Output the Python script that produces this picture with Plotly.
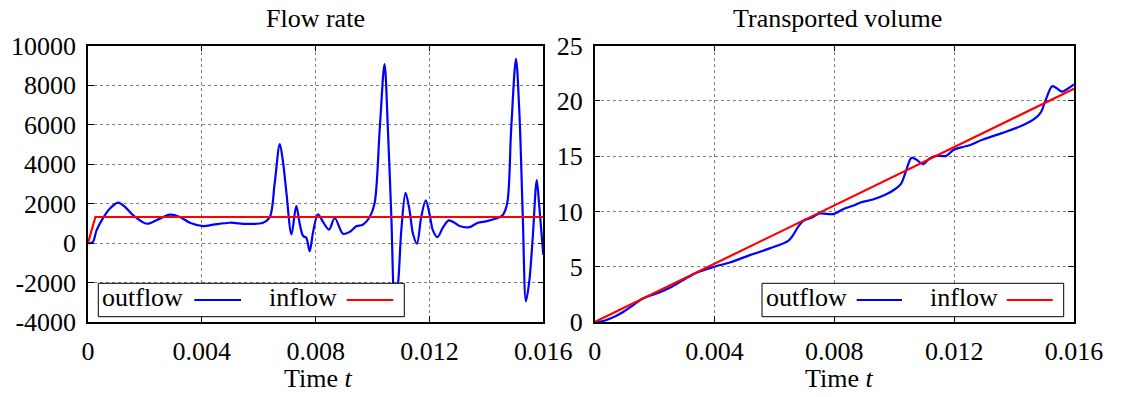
import plotly.graph_objects as go

W, H = 1126, 397
FONT = "Liberation Serif"
FS = 26

# ---------------- data ----------------
flow_t = [0.0, 0.00016, 0.0003, 0.00048, 0.00077, 0.00106, 0.0013, 0.00159, 0.00206,
          0.00247, 0.00288, 0.00323, 0.00358, 0.00405, 0.0044, 0.00498, 0.00557,
          0.00615, 0.00639, 0.00656, 0.00674, 0.00686, 0.00697, 0.00715, 0.00732,
          0.00744, 0.00756, 0.00767, 0.00779, 0.00791, 0.00808, 0.00826, 0.00847,
          0.00867, 0.00896, 0.00919, 0.00943, 0.00966, 0.0099, 0.01007, 0.01025,
          0.01042, 0.01054, 0.01066, 0.01078, 0.0109, 0.01101, 0.01116, 0.0113,
          0.01142, 0.01156, 0.01171, 0.01187, 0.01201, 0.01212, 0.01228, 0.01248,
          0.01268, 0.01288, 0.01306, 0.01341, 0.0137, 0.01399, 0.01434, 0.01457,
          0.01473, 0.01487, 0.01504, 0.01516, 0.01528, 0.01539, 0.01551, 0.01563,
          0.01577, 0.01586, 0.016]
flow_out = [0, 30, 640, 1150, 1750, 2050, 1830, 1400, 980,
            1200, 1440, 1320, 1030, 860, 930, 1030, 970,
            1030, 1320, 3020, 5020, 4030, 2590, 440, 1880,
            980, 360, 270, -410, 560, 1460, 1070, 680,
            1270, 470, 560, 850, 930, 1320, 2000, 5730,
            9070, 5730, 1320, -3200, -2000, 640, 2540, 1660,
            470, -30, 1320, 2170, 1410, 640, 300, 810,
            1150, 1030, 860, 810, 1030, 1100, 1240, 1410,
            2000, 5730, 9340, 6580, 1320, -2950, -1900, 300,
            3190, 1830, -600]
flow_in_t = [0.0, 0.00026, 0.016]
flow_in = [0, 1320, 1320]

vol_t = [0.0, 0.00029, 0.00062, 0.00096, 0.00129, 0.00162, 0.00207, 0.00251, 0.00296,
         0.0034, 0.004, 0.00451, 0.00518, 0.00584, 0.00646, 0.00662, 0.00679, 0.00696,
         0.00723, 0.00751, 0.00796, 0.00829, 0.00862, 0.0089, 0.00929, 0.00968,
         0.01001, 0.01023, 0.0104, 0.01057, 0.01073, 0.01096, 0.01118, 0.0114,
         0.01173, 0.01196, 0.01229, 0.01251, 0.01296, 0.01362, 0.01429, 0.01473,
         0.0149, 0.01507, 0.01527, 0.0154, 0.0156, 0.01579, 0.016]
vol_out = [0.0, 0.09, 0.42, 0.93, 1.54, 2.14, 2.59, 3.10, 3.80,
           4.46, 5.0, 5.39, 6.05, 6.66, 7.35, 7.86, 8.61, 9.16,
           9.43, 9.82, 9.76, 10.21, 10.51, 10.84, 11.08, 11.48,
           11.99, 12.53, 13.73, 14.85, 14.7, 14.28, 14.79, 15.03,
           15.03, 15.54, 15.84, 15.99, 16.51, 17.11, 17.8, 18.49,
           19.0, 20.2, 21.33, 21.2, 20.84, 21.11, 21.5]
vol_in_t = [0.0, 0.016]
vol_in = [0.0, 21.1]

x_ticks = [0, 0.004, 0.008, 0.012, 0.016]
x_ticktext = ["0", "0.004", "0.008", "0.012", "0.016"]
y1_ticks = [-4000, -2000, 0, 2000, 4000, 6000, 8000, 10000]
y1_ticktext = ["-4000", "-2000", "0", "2000", "4000", "6000", "8000", "10000"]
y2_ticks = [0, 5, 10, 15, 20, 25]
y2_ticktext = ["0", "5", "10", "15", "20", "25"]

titles = ["Flow rate", "Transported volume"]
xtitle = "Time <i>t</i>"
series_names = ["outflow", "inflow"]
BLUE, RED = "#0000ff", "#ff0000"

# ---------------- geometry (pixels) ----------------
def px(x):
    return x / W

def py(y):
    return 1 - y / H

L1, R1 = 88.0, 543.3
L2, R2 = 594.7, 1074.0
TOP, BOT = 45.7, 322.0

fig = go.Figure()
fig.add_trace(go.Scatter(x=flow_t, y=flow_out, mode="lines", name=series_names[0],
                         line=dict(color=BLUE, width=2.2, shape="spline", smoothing=0.9),
                         xaxis="x", yaxis="y", showlegend=False))
fig.add_trace(go.Scatter(x=flow_in_t, y=flow_in, mode="lines", name=series_names[1],
                         line=dict(color=RED, width=2.2),
                         xaxis="x", yaxis="y", showlegend=False))
fig.add_trace(go.Scatter(x=vol_t, y=vol_out, mode="lines", name=series_names[0],
                         line=dict(color=BLUE, width=2.2, shape="spline", smoothing=0.9),
                         xaxis="x2", yaxis="y2", showlegend=False))
fig.add_trace(go.Scatter(x=vol_in_t, y=vol_in, mode="lines", name=series_names[1],
                         line=dict(color=RED, width=2.2),
                         xaxis="x2", yaxis="y2", showlegend=False))

axis_common = dict(
    showline=True, linecolor="black", linewidth=1.5, mirror="allticks",
    ticks="inside", ticklen=6, tickcolor="black", tickwidth=1,
    showgrid=True, gridcolor="#808080", gridwidth=1, griddash="dot",
    zeroline=False, tickfont=dict(family=FONT, size=FS, color="black"),
    automargin=False,
)

fig.update_layout(
    width=W, height=H,
    margin=dict(l=0, r=0, t=0, b=0),
    paper_bgcolor="white", plot_bgcolor="white",
    font=dict(family=FONT, size=FS, color="black"),
    showlegend=False,
    xaxis=dict(domain=[px(L1), px(R1)], range=[0, 0.016], tickvals=x_ticks,
               ticktext=x_ticktext, anchor="y", ticklabelstandoff=5, **axis_common),
    yaxis=dict(domain=[py(BOT), py(TOP)], range=[-4000, 10000], tickvals=y1_ticks,
               ticktext=y1_ticktext, anchor="x", ticklabelstandoff=5, **axis_common),
    xaxis2=dict(domain=[px(L2), px(R2)], range=[0, 0.016], tickvals=x_ticks,
                ticktext=x_ticktext, anchor="y2", ticklabelstandoff=5, **axis_common),
    yaxis2=dict(domain=[py(BOT), py(TOP)], range=[0, 25], tickvals=y2_ticks,
                ticktext=y2_ticktext, anchor="x2", ticklabelstandoff=5, **axis_common),
)

annotations = []
shapes = []

def text(x, y, s, anchor="center"):
    annotations.append(dict(x=px(x), y=py(y), xref="paper", yref="paper", text=s,
                            showarrow=False, xanchor=anchor, yanchor="middle",
                            font=dict(family=FONT, size=FS, color="black")))

# titles
text((L1 + R1) / 2, 18.2, titles[0])
text((L2 + R2) / 2 + 3, 18.2, titles[1])
text((L1 + R1) / 2 + 2, 378.5, xtitle)
text((L2 + R2) / 2 + 5, 378.5, xtitle)

# legends (gnuplot style: label then sample)
def legend(box, out_x, blue_seg, in_x, red_seg):
    x0, y0, x1, y1 = box
    shapes.append(dict(type="rect", xref="paper", yref="paper",
                       x0=px(x0), x1=px(x1), y0=py(y1), y1=py(y0),
                       line=dict(color="black", width=1), fillcolor="white",
                       layer="above"))
    text(out_x, 297.9, series_names[0], anchor="left")
    text(in_x, 297.9, series_names[1], anchor="left")
    shapes.append(dict(type="line", xref="paper", yref="paper",
                       x0=px(blue_seg[0]), x1=px(blue_seg[1]), y0=py(300), y1=py(300),
                       line=dict(color=BLUE, width=2.2), layer="above"))
    shapes.append(dict(type="line", xref="paper", yref="paper",
                       x0=px(red_seg[0]), x1=px(red_seg[1]), y0=py(300), y1=py(300),
                       line=dict(color=RED, width=2.2), layer="above"))

legend((98.3, 283.3, 404.3, 316.7), 100.0, (194.3, 241.0), 266.7, (346.7, 393.3))
legend((762.0, 283.3, 1063.7, 316.7), 763.5, (856.7, 902.0), 928.3, (1006.7, 1052.7))

fig.update_layout(annotations=annotations, shapes=shapes)
fig.write_html("out.html")
